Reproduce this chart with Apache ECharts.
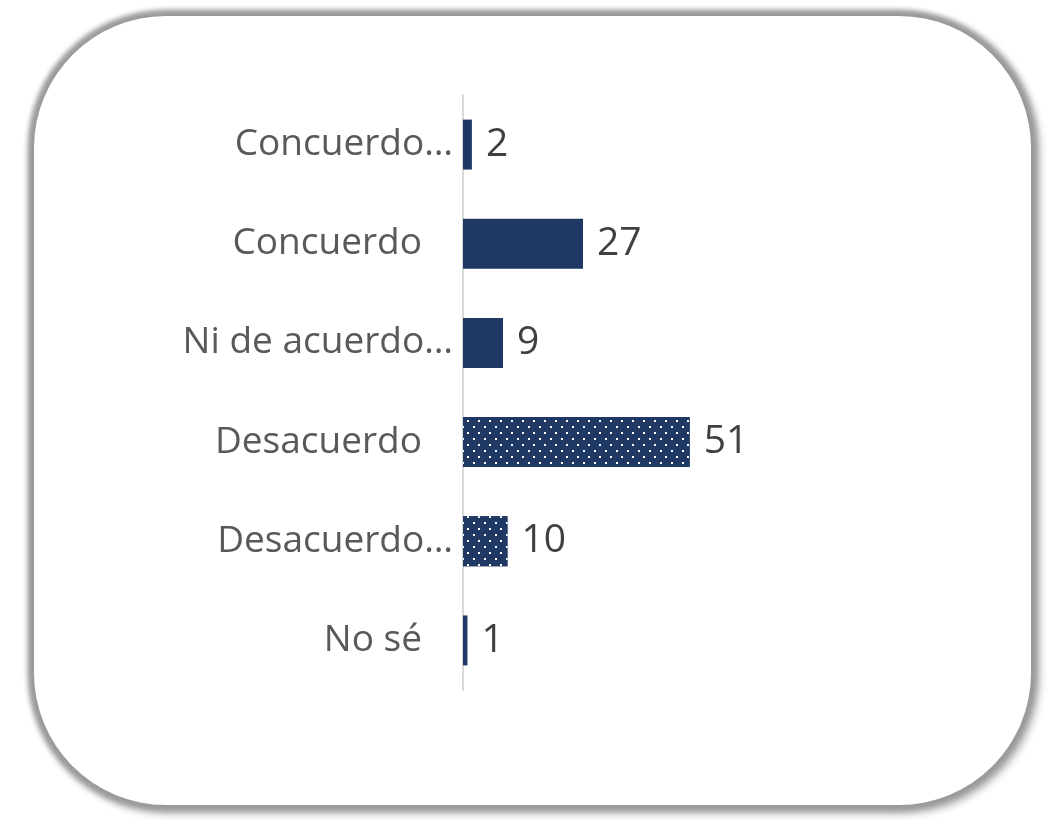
<!DOCTYPE html>
<html>
<head>
<meta charset="utf-8">
<script src="https://cdn.jsdelivr.net/npm/echarts@6/dist/echarts.min.js"></script>
<style>
  html, body { margin: 0; padding: 0; background: #fff; }
  #card {
    position: absolute; left: 34px; top: 16px; width: 997px; height: 789px;
    border-radius: 132px;
    box-shadow: 0 0 5px 6px #999999, 3px 3px 7px 7px rgba(0,0,0,0.22);
    background: #fff;
  }
  #main { position: absolute; left: 0; top: 0; width: 1061px; height: 821px; }
</style>
</head>
<body>
<div id="card"></div>
<div id="main"></div>
<script>
// 数据
var categories = ['Concuerdo…', 'Concuerdo', 'Ni de acuerdo…', 'Desacuerdo', 'Desacuerdo…', 'No sé'];
var values = [2, 27, 9, 51, 10, 1];
// 哪些条带点状花纹
var dotted = [false, false, false, true, true, false];

var navy = '#203864';

var myChart = echarts.init(document.getElementById('main'));

// 白点花纹
var dots = {
    color: '#ffffff',
    backgroundColor: navy,
    symbol: 'rect',
    symbolSize: 1,
    dashArrayX: [[2, 9], [0, 5, 2, 4]],
    dashArrayY: [2, 4],
    rotation: 0
};

var barData = values.map(function (v, i) {
    var item = { value: v };
    if (dotted[i]) {
        item.itemStyle = { decal: dots };
    }
    return item;
});

var option = {
    animation: false,
    grid: { left: 463, right: 158, top: 95, bottom: 131, containLabel: false },
    xAxis: {
        type: 'value',
        min: 0,
        max: 99,
        show: false
    },
    yAxis: {
        type: 'category',
        inverse: true,
        data: categories,
        axisTick: { show: false },
        axisLine: { show: true, lineStyle: { color: '#d9d9d9', width: 2 } },
        axisLabel: {
            margin: 10,
            color: '#595959',
            fontFamily: 'Open Sans',
            fontSize: 37,
            formatter: function (v) {
                // 没截断的标签右边留一点空
                return v.slice(-1) === '…' ? v : '{p|' + v + '}';
            },
            rich: {
                p: { padding: [0, 31, 0, 0], color: '#595959', fontFamily: 'Open Sans', fontSize: 37 }
            }
        }
    },
    series: [
        {
            type: 'bar',
            barWidth: 50,
            itemStyle: { color: navy },
            label: {
                show: true,
                position: 'right',
                distance: 14,
                color: '#404040',
                fontFamily: 'Open Sans',
                fontSize: 39
            },
            data: barData
        }
    ]
};
myChart.setOption(option);
</script>
</body>
</html>
